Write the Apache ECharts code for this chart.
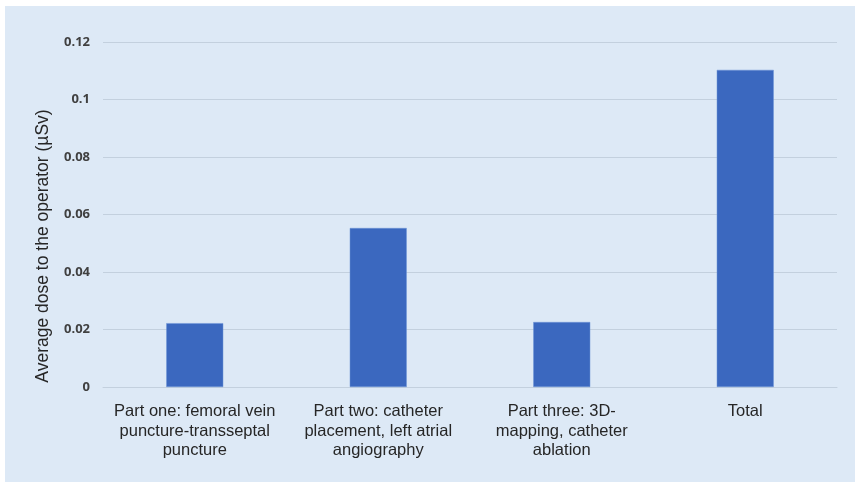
<!DOCTYPE html>
<html>
<head>
<meta charset="utf-8">
<script src="https://cdn.jsdelivr.net/npm/echarts@6/dist/echarts.min.js"></script>
<style>
  html, body { margin: 0; padding: 0; background: #ffffff; }
  #chart { position: absolute; left: 5px; top: 6px; width: 850px; height: 476px; background: #dde9f6; }
</style>
</head>
<body>
<div id="chart"></div>
<script>
  // data
  var categories = [
    'Part one: femoral vein\npuncture-transseptal\npuncture',
    'Part two: catheter\nplacement, left atrial\nangiography',
    'Part three: 3D-\nmapping, catheter\nablation',
    'Total'
  ];
  var doseValues = [0.0222, 0.0553, 0.0226, 0.1103];
  var yTicks = { min: 0, max: 0.12, interval: 0.02 };
  var yTitle = 'Average dose to the operator (\u00b5Sv)';

  var chart = echarts.init(document.getElementById('chart'));
  chart.setOption({
    animation: false,
    grid: {
      left: 98,
      right: 18,
      top: 36,
      bottom: 95
    },
    xAxis: {
      type: 'category',
      data: categories,
      axisTick: { show: false },
      axisLine: { lineStyle: { color: '#c3d0de', width: 1 } },
      axisLabel: {
        interval: 0,
        margin: 15,
        color: '#262626',
        fontFamily: 'Liberation Sans',
        fontSize: 16.5,
        lineHeight: 19.5
      }
    },
    yAxis: {
      type: 'value',
      min: yTicks.min,
      max: yTicks.max,
      interval: yTicks.interval,
      axisLine: { show: false },
      axisTick: { show: false },
      splitLine: { lineStyle: { color: '#c3d0de', width: 1 } },
      axisLabel: {
        margin: 13,
        color: '#404040',
        fontFamily: 'Open Sans',
        fontWeight: 'bold',
        fontSize: 13,
        formatter: function (v) {
          return v === 0 ? '0' : String(+v.toFixed(2));
        }
      }
    },
    graphic: [{
      type: 'text',
      x: 38,
      y: 240,
      rotation: Math.PI / 2,
      style: {
        text: yTitle,
        fill: '#262626',
        font: '17.5px "Liberation Sans"',
        align: 'center',
        verticalAlign: 'middle'
      }
    }],
    series: [{
      type: 'bar',
      data: doseValues,
      barWidth: 57,
      itemStyle: {
        color: '#3b68bf',
        borderColor: '#6f94d6',
        borderWidth: 0.5
      }
    }]
  });
</script>
</body>
</html>
